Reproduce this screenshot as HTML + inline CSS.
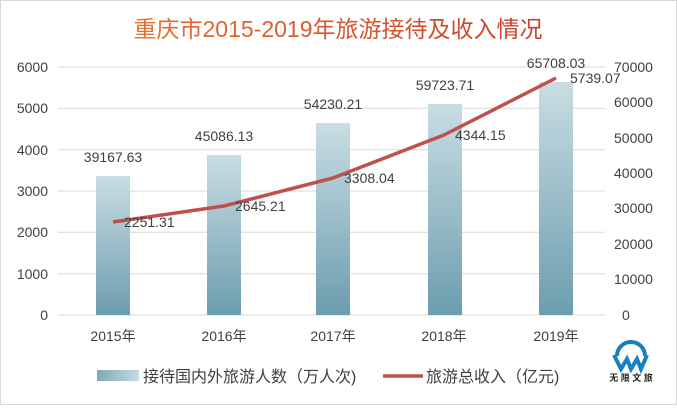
<!DOCTYPE html>
<html><head><meta charset="utf-8"><style>
body{margin:0;background:#fff}
svg text{font-family:"Liberation Sans","Noto Sans CJK SC",sans-serif;fill:#404040}
</style></head><body>
<svg width="677" height="405" viewBox="0 0 677 405" xmlns="http://www.w3.org/2000/svg">
<defs>
<linearGradient id="bg" x1="0" y1="0" x2="0" y2="1"><stop offset="0" stop-color="#c9dde3"/><stop offset="1" stop-color="#6c9dae"/></linearGradient>
<linearGradient id="lg" x1="0" y1="0" x2="1" y2="0"><stop offset="0" stop-color="#7eaab8"/><stop offset="1" stop-color="#c5dae0"/></linearGradient>
<linearGradient id="tg" x1="0" y1="0" x2="1" y2="0"><stop offset="0" stop-color="#e8702e"/><stop offset="1" stop-color="#c8402a"/></linearGradient>
</defs>
<rect x="0.5" y="0.5" width="676" height="404" fill="#fff" stroke="#d8d8d8"/>
<text x="338" y="37" text-anchor="middle" font-size="23" style="fill:url(#tg)">重庆市2015-2019年旅游接待及收入情况</text>
<g stroke="#d9d9d9" stroke-width="1">
<line x1="58" y1="67" x2="605" y2="67"/><line x1="58" y1="108.3" x2="605" y2="108.3"/><line x1="58" y1="149.7" x2="605" y2="149.7"/><line x1="58" y1="191" x2="605" y2="191"/><line x1="58" y1="232.3" x2="605" y2="232.3"/><line x1="58" y1="273.7" x2="605" y2="273.7"/><line x1="58" y1="315" x2="605" y2="315"/>
</g>
<g font-size="14" text-anchor="end">
<text x="48" y="72">6000</text><text x="48" y="113">5000</text><text x="48" y="155">4000</text><text x="48" y="196">3000</text><text x="48" y="237">2000</text><text x="48" y="279">1000</text><text x="48" y="320">0</text>
</g>
<g font-size="14" text-anchor="start">
<text x="614" y="72">70000</text><text x="614" y="107">60000</text><text x="614" y="143">50000</text><text x="614" y="178">40000</text><text x="614" y="213">30000</text><text x="614" y="249">20000</text><text x="614" y="284">10000</text><text x="622" y="320">0</text>
</g>
<g fill="url(#bg)">
<rect x="96" y="176" width="34" height="139"/>
<rect x="207" y="155" width="34" height="160"/>
<rect x="316" y="123" width="34" height="192"/>
<rect x="428" y="104" width="34" height="211"/>
<rect x="539" y="82" width="34" height="233"/>
</g>
<polyline points="113,222 224,206 333,178 444,135 556,78" fill="none" stroke="#c0504d" stroke-width="3.5" stroke-linejoin="round"/>
<g font-size="14" text-anchor="middle">
<text x="113" y="162">39167.63</text><text x="224" y="141">45086.13</text><text x="333" y="109">54230.21</text><text x="445" y="90">59723.71</text><text x="556" y="68">65708.03</text>
</g>
<g font-size="14">
<text x="124" y="227">2251.31</text><text x="235" y="211">2645.21</text><text x="344" y="183">3308.04</text><text x="455" y="140">4344.15</text><text x="570" y="83">5739.07</text>
</g>
<g font-size="14" text-anchor="middle">
<text x="113" y="341">2015年</text><text x="224" y="341">2016年</text><text x="333" y="341">2017年</text><text x="444" y="341">2018年</text><text x="556" y="341">2019年</text>
</g>
<rect x="97" y="370" width="42" height="11" fill="url(#lg)"/>
<text x="143" y="382" font-size="16">接待国内外旅游人数（万人次)</text>
<line x1="383" y1="376" x2="423" y2="376" stroke="#c0504d" stroke-width="3.5"/>
<text x="426" y="382" font-size="16">旅游总收入（亿元)</text>
<g fill="none" stroke="#1a7fc0" stroke-width="4">
<path d="M617 356 a14 14 0 0 1 28 0"/>
<path d="M614 355 l7 14 l6 -10 l4 10 l6 -10 l4 10 l6 -14"/>
</g>
<text x="631" y="381" font-size="9" text-anchor="middle" style="fill:#222;font-weight:bold">无 限 文 旅</text>
</svg>
</body></html>
